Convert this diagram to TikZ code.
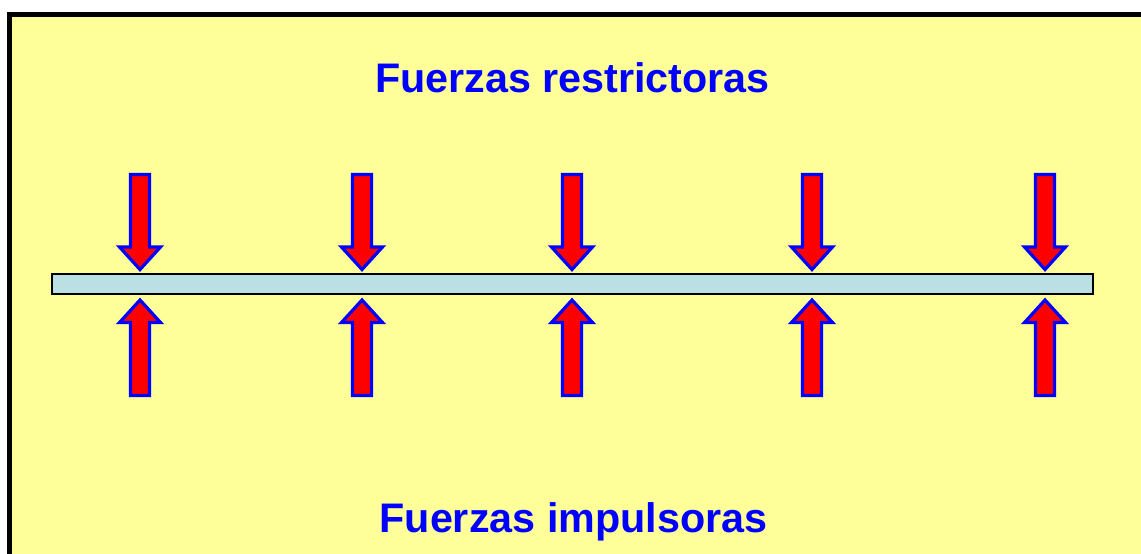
\documentclass[tikz,border=0pt]{standalone}
\usepackage{fontspec}
\setmainfont{Liberation Sans}
\definecolor{paper}{HTML}{FFFF99}
\definecolor{barfill}{HTML}{BBE0E3}
\definecolor{arrred}{HTML}{FF0000}
\definecolor{arrblue}{HTML}{0000FF}
\tikzset{
  forcearrow/.style={fill=arrred, draw=arrblue, line width=3.2pt, line join=miter, miter limit=10},
  titletext/.style={text=arrblue, font=\fontsize{41.3}{48}\selectfont\bfseries, anchor=base, inner sep=0pt},
  downarrow/.pic={
    \path[forcearrow] (-9.5,174.5) -- (9.5,174.5) -- (9.5,247) -- (20.5,247) -- (0,269.5) -- (-20.5,247) -- (-9.5,247) -- cycle;
  },
  uparrow/.pic={
    \path[forcearrow] (-9.5,395.5) -- (9.5,395.5) -- (9.5,322.5) -- (20.5,322.5) -- (0,300) -- (-20.5,322.5) -- (-9.5,322.5) -- cycle;
  }
}
\begin{document}
\begin{tikzpicture}[x=1pt,y=-1pt]
\useasboundingbox (0,0) rectangle (1141,554);
\fill[white] (0,0) rectangle (1141,554);
\fill[black] (7,12) rectangle (1141,554);
\fill[paper] (12,17) rectangle (1141,554);
\node[titletext] (top) at (572.5,92) {Fuerzas restrictoras};
\node[titletext] (bottom) at (573.5,532) {Fuerzas impulsoras};
\foreach \cx [count=\i] in {140,362,572,812,1045}{
  \pic (d\i) at (\cx,0) {downarrow};
  \pic (u\i) at (\cx,0) {uparrow};
}
\draw[fill=barfill, draw=black, line width=1.5pt] (52,274) rectangle (1093,294);
\end{tikzpicture}
\end{document}
